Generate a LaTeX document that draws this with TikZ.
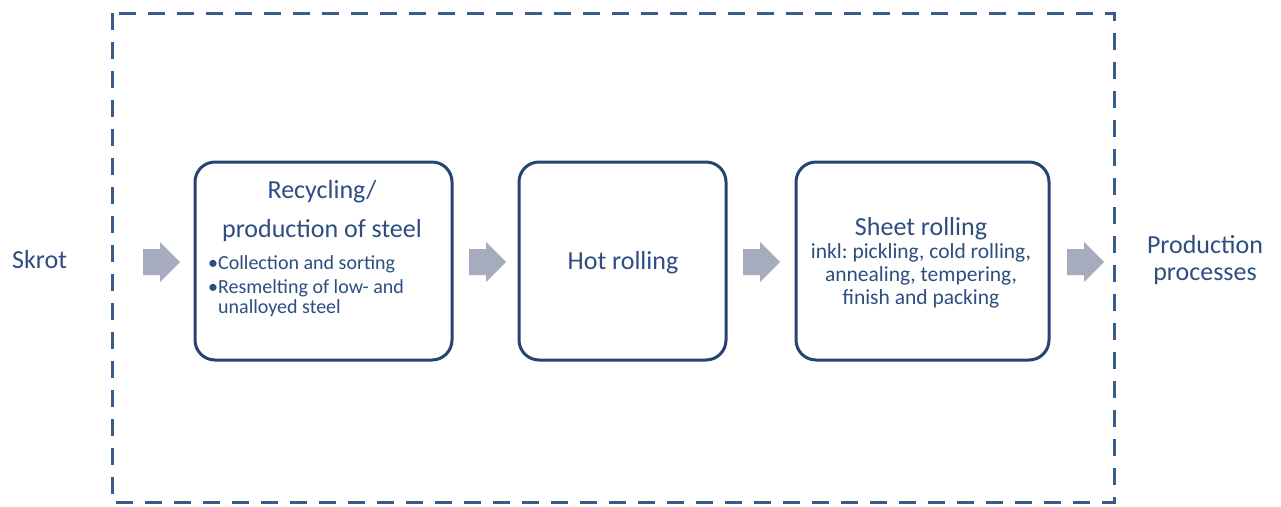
\documentclass[tikz,border=0pt]{standalone}
\usepackage{fontspec}
\setmainfont{Carlito}
\frenchspacing
\definecolor{txtblue}{RGB}{44,78,128}
\definecolor{boxblue}{RGB}{38,68,115}
\definecolor{dashblue}{RGB}{56,93,138}
\definecolor{arrowgrey}{RGB}{166,171,189}
\tikzset{
  procbox/.style={draw=boxblue, line width=3pt, rounded corners=20pt, fill=white},
  frame/.style={draw=dashblue, line width=3pt, dash pattern=on 17pt off 12pt},
  ttl/.style={text=txtblue, font=\fontsize{26}{30}\selectfont, inner sep=0pt, anchor=base},
  sub/.style={text=txtblue, font=\fontsize{21.5}{23}\selectfont, inner sep=0pt, anchor=base},
  bul/.style={text=txtblue, font=\fontsize{20}{22}\selectfont, inner sep=0pt, anchor=base west},
  blockarrow/.pic={\fill[arrowgrey] (0,-13) -- (17,-13) -- (17,-20) -- (37,0) -- (17,20) -- (17,13) -- (0,13) -- cycle;}
}
\begin{document}
\begin{tikzpicture}[x=1pt,y=-1pt]
\useasboundingbox (0,0) rectangle (1281,506);
\draw[frame] (112,13) rectangle (1114,502);
% boxes
\node[procbox, minimum width=257pt, minimum height=198pt] (b1) at (323.5,261) {};
\node[procbox, minimum width=207pt, minimum height=198pt] (b2) at (622.5,261) {};
\node[procbox, minimum width=253pt, minimum height=198pt] (b3) at (922.5,261) {};
% outside labels
\node[ttl, anchor=base west] (skrot) at (12,268) {Skrot};
\node[ttl] (prod1) at (1205,253) {Production};
\node[ttl] (prod2) at (1205,280) {processes};
% box 1 text
\node[ttl] (t1a) at (322,198) {Recycling/};
\node[ttl] (t1b) at (322,237) {production of steel};
\node[bul] (t1c) at (208,269) {•Collection and sorting};
\node[bul] (t1d) at (208,293) {•Resmelting of low- and};
\node[bul] (t1e) at (218,313) {unalloyed steel};
% box 2 text
\node[ttl] (t2) at (623,269) {Hot rolling};
% box 3 text
\node[ttl] (t3a) at (921,235) {Sheet rolling};
\node[sub] (t3b) at (921,258) {inkl: pickling, cold rolling,};
\node[sub] (t3c) at (921,281) {annealing, tempering,};
\node[sub] (t3d) at (921,304) {finish and packing};
% block arrows
\pic at (143,262) {blockarrow};
\pic at (469,262) {blockarrow};
\pic at (743,262) {blockarrow};
\pic at (1067,262) {blockarrow};
\end{tikzpicture}
\end{document}
